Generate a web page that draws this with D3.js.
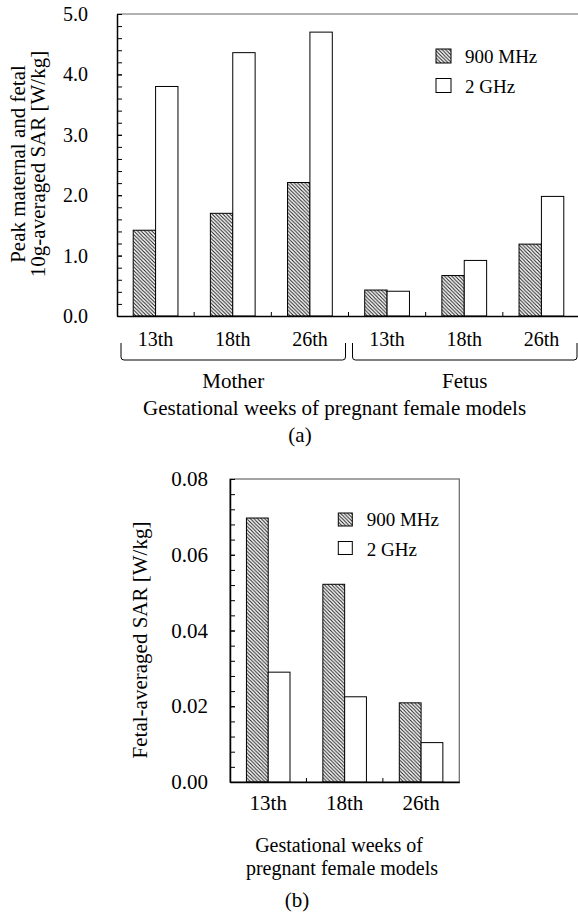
<!DOCTYPE html>
<meta charset="utf-8">
<body style="margin:0;background:#fff">
<script src="https://cdn.jsdelivr.net/npm/d3@7"></script>
<script>

// data
var weeks = ["13th", "18th", "26th"];
var subjects = ["Mother", "Fetus"];
var seriesNames = ["900 MHz", "2 GHz"];

var peak900 = [1.42, 1.70, 2.21, 0.43, 0.67, 1.19];   // (a) 900 MHz
var peak2g  = [3.80, 4.36, 4.70, 0.41, 0.92, 1.98];   // (a) 2 GHz
var fetal900 = [0.0697, 0.0522, 0.0209];              // (b) 900 MHz
var fetal2g  = [0.0290, 0.0225, 0.0104];              // (b) 2 GHz

var yTicksA = [0, 1, 2, 3, 4, 5];
var yTicksB = [0, 0.02, 0.04, 0.06, 0.08];

var svg = d3.select("body").append("svg")
    .attr("width", 578)
    .attr("height", 913)
    .attr("font-family", "Liberation Serif")
    .style("font-family", "'Liberation Serif'");

var defs = svg.append("defs");
defs.append("pattern")
    .attr("id", "hatch")
    .attr("patternUnits", "userSpaceOnUse")
    .attr("width", 3.6)
    .attr("height", 3.6)
  .append("path")
    .attr("d", "M-1,-1 L4.6,4.6 M-1,2.6 L1,4.6 M2.6,-1 L4.6,1")
    .attr("stroke", "#222")
    .attr("stroke-width", 1.1);

var fills = ["url(#hatch)", "#fff"];

// helper: text with the serif face and a size
function label(g, x, y, size, str, anchor) {
  return g.append("text")
    .attr("x", x).attr("y", y)
    .attr("text-anchor", anchor || "start")
    .style("font-family", "'Liberation Serif'")
    .style("font-size", size + "px")
    .text(str);
}

// ---------- (a) ----------
var mA = {left: 117, top: 14, right: 580, bottom: 316};

var catsA = [];
subjects.forEach(function(s) { weeks.forEach(function(w) { catsA.push(s + " " + w); }); });

var xA = d3.scaleBand()
    .domain(catsA)
    .range([mA.left, mA.right])
    .paddingInner(0.42)
    .paddingOuter(0.21);
var x1A = d3.scaleBand()
    .domain(seriesNames)
    .range([0, xA.bandwidth()]);
var yA = d3.scaleLinear()
    .domain([0, 5])
    .range([mA.bottom, mA.top]);

var gA = svg.append("g");

// top border (plot runs off the right edge)
gA.append("line")
    .attr("x1", mA.left).attr("x2", mA.right)
    .attr("y1", mA.top).attr("y2", mA.top)
    .attr("stroke", "#666").attr("stroke-width", 1.2);

var rowsA = catsA.map(function(c, i) { return {cat: c, vals: [peak900[i], peak2g[i]]}; });

gA.selectAll(".grp")
    .data(rowsA)
  .enter().append("g")
    .attr("transform", function(d) { return "translate(" + xA(d.cat) + ",0)"; })
  .selectAll("rect")
    .data(function(d) { return d.vals.map(function(v, j) { return {s: seriesNames[j], v: v, j: j}; }); })
  .enter().append("rect")
    .attr("x", function(d) { return x1A(d.s); })
    .attr("width", x1A.bandwidth())
    .attr("y", function(d) { return yA(d.v); })
    .attr("height", function(d) { return mA.bottom - yA(d.v); })
    .attr("fill", function(d) { return fills[d.j]; })
    .attr("stroke", "#000");

// y axis: minor ticks then labelled ticks
gA.append("g")
    .attr("transform", "translate(" + mA.left + ",0)")
    .call(d3.axisLeft(yA).tickValues(d3.range(0, 5.01, 0.2)).tickSize(-5).tickSizeOuter(0).tickFormat(""));
gA.append("g")
    .attr("transform", "translate(" + mA.left + ",0)")
    .call(d3.axisLeft(yA).tickValues(yTicksA).tickSize(-5).tickSizeOuter(0).tickPadding(29).tickFormat(d3.format(".1f")))
    .call(function(g) {
      g.attr("font-family", "Liberation Serif").attr("font-size", 20);
      g.select(".domain").attr("stroke-width", 1.5);
    });

// x axis
gA.append("g")
    .attr("transform", "translate(0," + mA.bottom + ")")
    .call(d3.axisBottom(xA).tickSize(0).tickSizeOuter(0).tickFormat(function(d) { return d.split(" ")[1]; }))
    .call(function(g) {
      g.attr("font-family", "Liberation Serif").attr("font-size", 20);
      g.select(".domain").attr("stroke-width", 1.5);
      g.selectAll("text").attr("y", 30).attr("dy", 0);
    });

// separators between groups
gA.selectAll(".sep")
    .data(catsA)
  .enter().append("line")
    .attr("x1", function(d) { return xA(d) + xA.bandwidth() / 2 + xA.step() / 2; })
    .attr("x2", function(d) { return xA(d) + xA.bandwidth() / 2 + xA.step() / 2; })
    .attr("y1", mA.bottom)
    .attr("y2", mA.bottom - 4)
    .attr("stroke", "#000");

// braces under Mother / Fetus
subjects.forEach(function(s) {
  var first = xA(s + " " + weeks[0]) - xA.step() * xA.paddingInner() / 2;
  var last = xA(s + " " + weeks[weeks.length - 1]) + xA.bandwidth() + xA.step() * xA.paddingInner() / 2;
  var x0 = first + 4, x1 = last - 3;
  gA.append("path")
    .attr("d", "M" + x0 + ",343 L" + x0 + ",357 Q" + x0 + ",360 " + (x0 + 3) + ",360 L" + (x1 - 3) + ",360 Q" + x1 + ",360 " + x1 + ",357 L" + x1 + ",343")
    .attr("fill", "none")
    .attr("stroke", "#000")
    .attr("stroke-width", 1);
  label(gA, (x0 + x1) / 2, 388, 21, s, "middle");
});

label(gA, 143, 415, 21, "Gestational weeks of pregnant female models");
label(gA, 300, 442, 21, "(a)", "middle");

label(gA, 0, 0, 21, "Peak maternal and fetal", "middle")
    .attr("transform", "translate(25,164) rotate(-90)");
label(gA, 0, 0, 21, "10g-averaged SAR [W/kg]", "middle")
    .attr("transform", "translate(45,164) rotate(-90)");

// legend (a)
seriesNames.forEach(function(s, i) {
  gA.append("rect")
    .attr("x", 436).attr("y", 49 + i * 29.5)
    .attr("width", 15).attr("height", 14)
    .attr("fill", fills[i]).attr("stroke", "#000");
  label(gA, 465, 63 + i * 30, 19, s);
});

// ---------- (b) ----------
var mB = {left: 230, top: 479, right: 459.3, bottom: 782};

var xB = d3.scaleBand()
    .domain(weeks)
    .range([mB.left, mB.right])
    .paddingInner(0.43)
    .paddingOuter(0.215);
var x1B = d3.scaleBand()
    .domain(seriesNames)
    .range([0, xB.bandwidth()]);
var yB = d3.scaleLinear()
    .domain([0, 0.08])
    .range([mB.bottom, mB.top]);

var gB = svg.append("g");

gB.append("rect")
    .attr("x", mB.left).attr("y", mB.top)
    .attr("width", mB.right - mB.left)
    .attr("height", mB.bottom - mB.top)
    .attr("fill", "none").attr("stroke", "#666").attr("stroke-width", 1.2);

var rowsB = weeks.map(function(w, i) { return {cat: w, vals: [fetal900[i], fetal2g[i]]}; });

gB.selectAll(".grp")
    .data(rowsB)
  .enter().append("g")
    .attr("transform", function(d) { return "translate(" + xB(d.cat) + ",0)"; })
  .selectAll("rect")
    .data(function(d) { return d.vals.map(function(v, j) { return {s: seriesNames[j], v: v, j: j}; }); })
  .enter().append("rect")
    .attr("x", function(d) { return x1B(d.s); })
    .attr("width", x1B.bandwidth())
    .attr("y", function(d) { return yB(d.v); })
    .attr("height", function(d) { return mB.bottom - yB(d.v); })
    .attr("fill", function(d) { return fills[d.j]; })
    .attr("stroke", "#000");

gB.append("g")
    .attr("transform", "translate(" + mB.left + ",0)")
    .call(d3.axisLeft(yB).tickValues(d3.range(0, 0.0801, 0.004)).tickSize(-5).tickSizeOuter(0).tickFormat(""));
gB.append("g")
    .attr("transform", "translate(" + mB.left + ",0)")
    .call(d3.axisLeft(yB).tickValues(yTicksB).tickSize(-5).tickSizeOuter(0).tickPadding(22).tickFormat(d3.format(".2f")))
    .call(function(g) {
      g.attr("font-family", "Liberation Serif").attr("font-size", 21);
      g.select(".domain").attr("stroke-width", 1.5);
    });

gB.append("g")
    .attr("transform", "translate(0," + mB.bottom + ")")
    .call(d3.axisBottom(xB).tickSize(0).tickSizeOuter(0))
    .call(function(g) {
      g.attr("font-family", "Liberation Serif").attr("font-size", 21);
      g.select(".domain").attr("stroke-width", 1.5);
      g.selectAll("text").attr("y", 28).attr("dy", 0);
    });

gB.selectAll(".sep")
    .data(weeks.slice(0, -1))
  .enter().append("line")
    .attr("x1", function(d) { return xB(d) + xB.bandwidth() / 2 + xB.step() / 2; })
    .attr("x2", function(d) { return xB(d) + xB.bandwidth() / 2 + xB.step() / 2; })
    .attr("y1", mB.bottom)
    .attr("y2", mB.bottom - 4)
    .attr("stroke", "#000");

label(gB, 339, 852, 20, "Gestational weeks of", "middle");
label(gB, 342, 875, 20, "pregnant female models", "middle");
label(gB, 297, 907, 21, "(b)", "middle");

label(gB, 0, 0, 21, "Fetal-averaged SAR [W/kg]", "middle")
    .attr("transform", "translate(147,640) rotate(-90)");

seriesNames.forEach(function(s, i) {
  gB.append("rect")
    .attr("x", 338.3).attr("y", 513 + i * 28.5)
    .attr("width", 14).attr("height", 13)
    .attr("fill", fills[i]).attr("stroke", "#000");
  label(gB, 366.7, 526 + i * 30, 19, s);
});

</script>
</body>
